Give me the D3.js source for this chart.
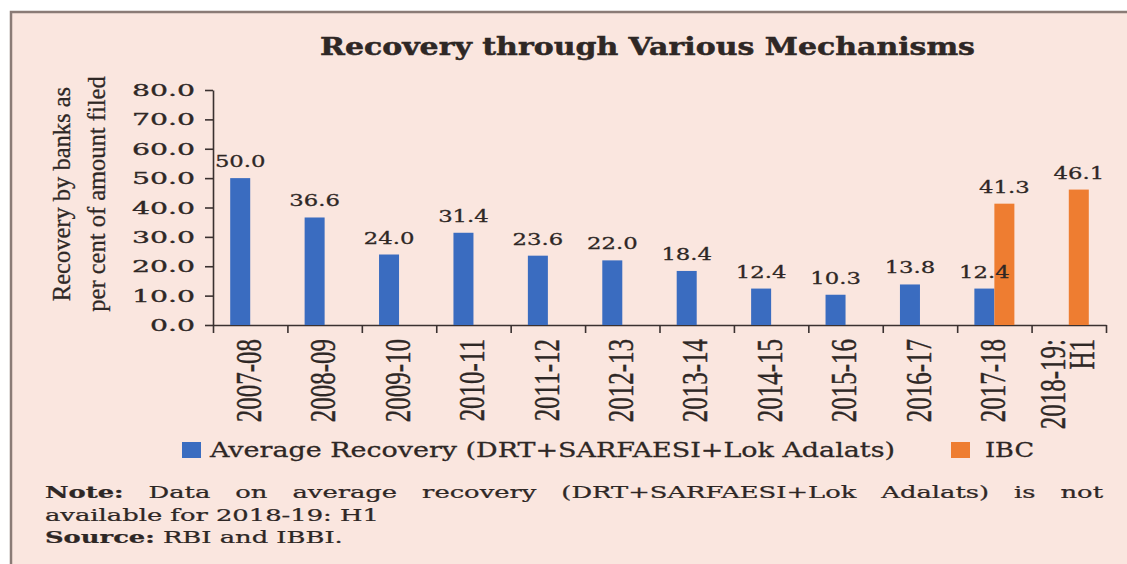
<!DOCTYPE html>
<html>
<head>
<meta charset="utf-8">
<script src="https://cdn.jsdelivr.net/npm/d3@7"></script>
<style>
  body { margin: 0; background: #fff; }
  svg { display: block; }
</style>
</head>
<body>
<div id="chart"></div>
<script>
// data
const categories = ["2007-08", "2008-09", "2009-10", "2010-11", "2011-12", "2012-13",
  "2013-14", "2014-15", "2015-16", "2016-17", "2017-18", "2018-19: H1"];
const avgRecovery = [50.0, 36.6, 24.0, 31.4, 23.6, 22.0, 18.4, 12.4, 10.3, 13.8, 12.4, null];
const ibcRecovery = [null, null, null, null, null, null, null, null, null, null, 41.3, 46.1];
const yTicks = [0, 10, 20, 30, 40, 50, 60, 70, 80];
const seriesNames = ["Average Recovery (DRT+SARFAESI+Lok Adalats)", "IBC"];
const seriesKeys = ["avg", "ibc"];

const titleText = "Recovery through Various Mechanisms";
const yTitleLines = ["Recovery by banks as", "per cent of amount filed"];
const noteLabel = "Note:";
const noteText = "Data on average recovery (DRT+SARFAESI+Lok Adalats) is not";
const noteLine2 = "available for 2018-19: H1";
const sourceLabel = "Source:";
const sourceText = "RBI and IBBI.";

const W = 1127, H = 564;
const plot = { left: 213, right: 1106, top: 90, bottom: 325 };
const colors = { avg: "#3a6cc0", ibc: "#ee7d31" };
const ink = "#2e2725";
const serifWide = "'DejaVu Serif', serif";
const serifNarrow = "'Liberation Serif', 'Times New Roman', serif";

const rows = categories.map((c, i) => ({ cat: c, avg: avgRecovery[i], ibc: ibcRecovery[i] }));

const svg = d3.select("#chart").append("svg")
  .attr("width", W)
  .attr("height", H);

// panel background + frame
svg.append("rect").attr("x", 11).attr("y", 12).attr("width", W - 11).attr("height", H - 12)
  .attr("fill", "#fae6df");
svg.append("path")
  .attr("d", `M11,${H} L11,12 L${W},12`)
  .attr("fill", "none").attr("stroke", "#8a7b76").attr("stroke-width", 2.5);

// scales
const x0 = d3.scaleBand().domain(categories).range([plot.left, plot.right]).padding(0);
const x1 = d3.scaleBand().domain(seriesKeys).range([0, x0.bandwidth()]).paddingOuter(0.86);
const y = d3.scaleLinear().domain([0, 80]).range([plot.bottom, plot.top]);
const xb = d3.scaleLinear().domain([0, categories.length]).range([plot.left, plot.right]);

// title
svg.append("text")
  .attr("x", 320).attr("y", 55)
  .attr("font-family", serifWide).attr("font-weight", "bold").attr("font-size", 25)
  .attr("fill", ink).attr("stroke", ink).attr("stroke-width", 0.5)
  .attr("textLength", 655).attr("lengthAdjust", "spacingAndGlyphs")
  .text(titleText);

// y axis
const yAxis = svg.append("g")
  .attr("transform", `translate(${plot.left},0)`)
  .call(d3.axisLeft(y).tickValues(yTicks).tickSize(8).tickSizeOuter(0).tickFormat(d3.format(".1f")));
yAxis.selectAll("path, line").attr("stroke", "#3a3130").attr("stroke-width", 1.6);
yAxis.selectAll("text")
  .attr("font-family", serifWide).attr("font-size", 17.5).attr("fill", ink)
  .attr("stroke", ink).attr("stroke-width", 0.35)
  .attr("x", -18 / 1.62)
  .attr("transform", "scale(1.62,1)");

// x axis: boundary ticks only
const xAxis = svg.append("g")
  .attr("transform", `translate(0,${plot.bottom})`)
  .call(d3.axisBottom(xb).tickValues(d3.range(categories.length + 1)).tickSize(8).tickSizeOuter(0).tickFormat(""));
xAxis.selectAll("path, line").attr("stroke", "#3a3130").attr("stroke-width", 1.6);

// category labels (rotated)
const xLab = svg.append("g").selectAll("g")
  .data(categories)
  .join("g")
  .attr("transform", d => `translate(${x0(d) + x0.bandwidth() / 2 - 2},339) scale(1.45,1) rotate(-90)`);
xLab.each(function(d) {
  const parts = d.split(/(?<=:)\s/);
  const t = d3.select(this).append("text")
    .attr("text-anchor", "end")
    .attr("font-family", serifNarrow).attr("font-size", 25).attr("fill", ink)
    .attr("stroke", ink).attr("stroke-width", 0.3);
  parts.forEach((p, i) => {
    t.append("tspan")
      .attr("x", 0)
      .attr("dy", i === 0 ? (0.35 - (parts.length - 1) * 0.4) + "em" : "0.8em")
      .text(p);
  });
});

// y title
const yt = svg.append("text")
  .attr("transform", "translate(70,194) rotate(-90)")
  .attr("text-anchor", "middle")
  .attr("font-family", serifNarrow).attr("font-size", 24.5).attr("fill", ink)
  .attr("stroke", ink).attr("stroke-width", 0.3);
yTitleLines.forEach((l, i) => {
  yt.append("tspan").attr("x", 0).attr("dy", i === 0 ? 0 : 35).text(l);
});

// bars
const groups = svg.append("g").selectAll("g")
  .data(rows)
  .join("g")
  .attr("transform", d => `translate(${x0(d.cat)},0)`);

const barData = d => seriesKeys.filter(k => d[k] != null).map(k => ({ key: k, value: d[k] }));

groups.selectAll("rect")
  .data(barData)
  .join("rect")
  .attr("x", d => x1(d.key))
  .attr("width", x1.bandwidth())
  .attr("y", d => y(d.value))
  .attr("height", d => y(0) - y(d.value))
  .attr("fill", d => colors[d.key]);

groups.selectAll("g.lbl")
  .data(barData)
  .join("g")
  .attr("class", "lbl")
  .attr("transform", d => `translate(${x1(d.key) + x1.bandwidth() / 2},${y(d.value) - 11}) scale(1.3,1)`)
  .append("text")
  .attr("text-anchor", "middle")
  .attr("font-family", serifWide).attr("font-size", 17.5).attr("fill", ink)
  .attr("stroke", ink).attr("stroke-width", 0.3)
  .text(d => d.value.toFixed(1));

// legend
const legend = svg.append("g");
const legendItems = [
  { key: "avg", name: seriesNames[0], box: 182, tx: 210, tw: 685 },
  { key: "ibc", name: seriesNames[1], box: 951, tx: 985, tw: 49 }
];
legendItems.forEach(it => {
  legend.append("rect").attr("x", it.box).attr("y", 442).attr("width", 19).attr("height", 16)
    .attr("fill", colors[it.key]);
  legend.append("text").attr("x", it.tx).attr("y", 457)
    .attr("font-family", serifWide).attr("font-size", 21).attr("fill", ink)
    .attr("stroke", ink).attr("stroke-width", 0.3)
    .attr("textLength", it.tw).attr("lengthAdjust", "spacingAndGlyphs")
    .text(it.name);
});

// note + source
const noteG = svg.append("g").attr("font-family", serifWide).attr("font-size", 16.5)
  .attr("fill", ink).attr("stroke", ink).attr("stroke-width", 0.25);
const n2 = noteG.append("text").text(noteLine2);
const sxNote = 334 / n2.node().getComputedTextLength();
n2.attr("transform", `translate(45,521) scale(${sxNote},1)`);

const n1 = noteG.append("text").attr("transform", `translate(45,498) scale(${sxNote},1)`);
n1.append("tspan").attr("font-weight", "bold").text(noteLabel);
n1.append("tspan").text(" " + noteText);
const natural = n1.node().getComputedTextLength();
const gaps = (noteLabel + " " + noteText).split(" ").length - 1;
n1.attr("word-spacing", (1058 / sxNote - natural) / gaps);

const n3 = noteG.append("text").attr("transform", `translate(45,543) scale(${sxNote},1)`);
n3.append("tspan").attr("font-weight", "bold").text(sourceLabel);
n3.append("tspan").text(" " + sourceText);
</script>
</body>
</html>
